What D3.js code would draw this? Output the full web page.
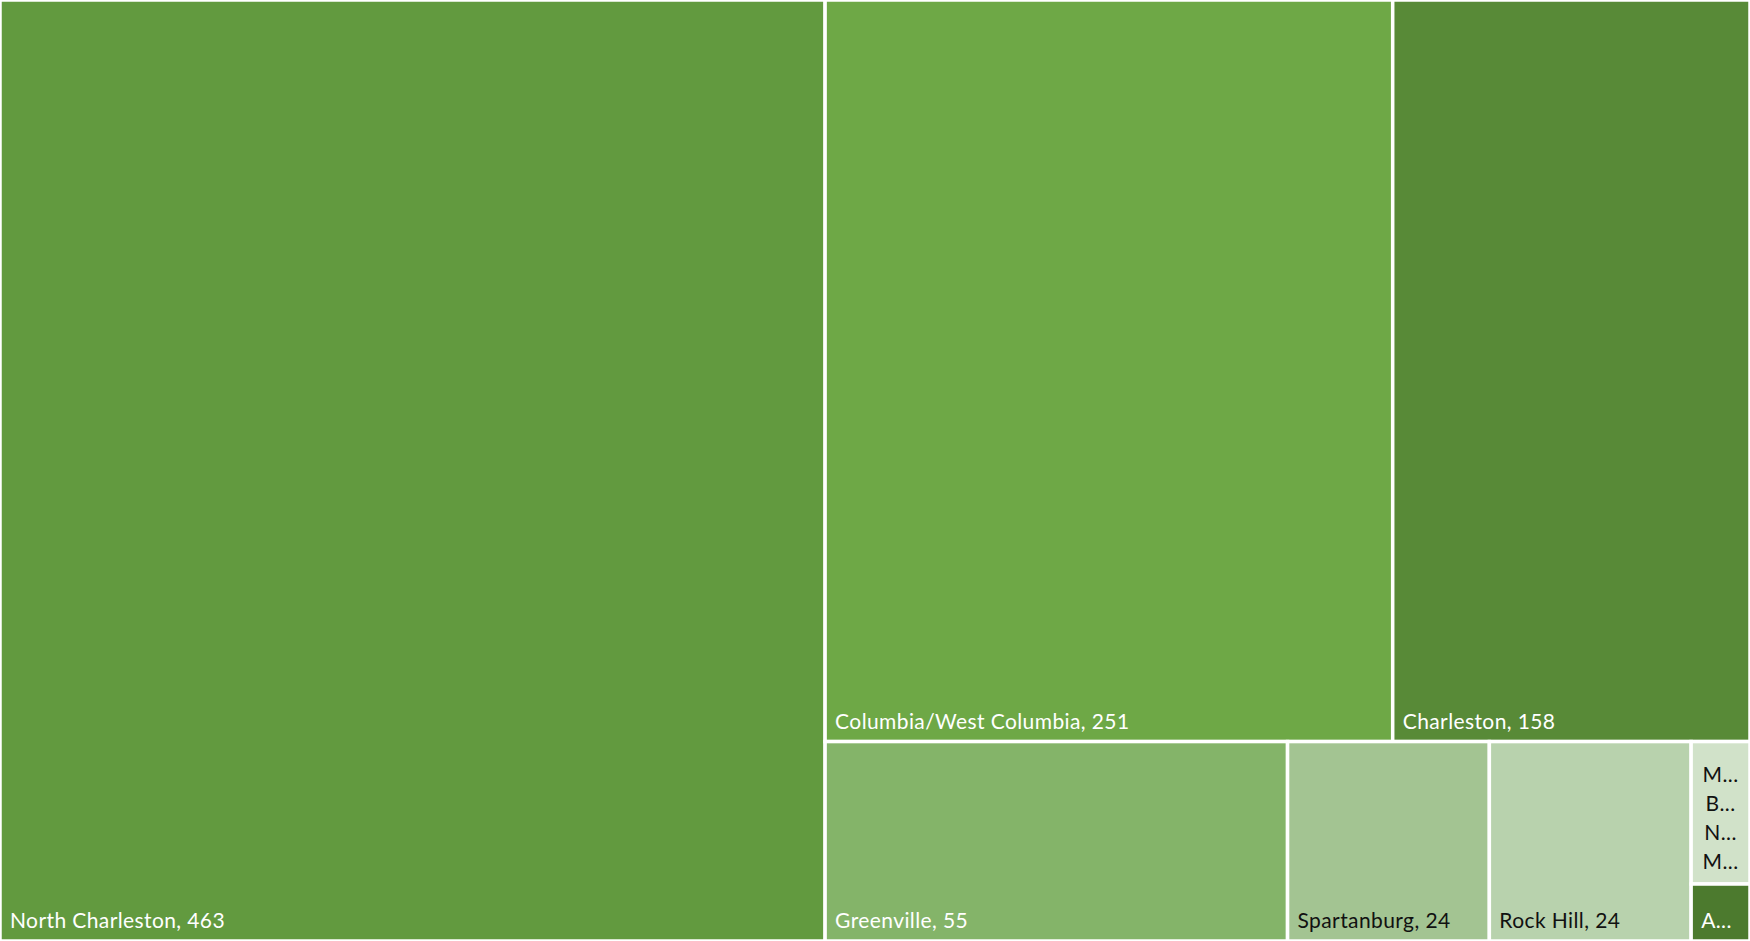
<!DOCTYPE html>
<html>
<head>
<meta charset="utf-8">
<script src="https://cdn.jsdelivr.net/npm/d3@7"></script>
<style>
  html, body { margin: 0; padding: 0; background: #fff; }
  svg { display: block; }
  text { font-family: Lato, "Open Sans", sans-serif; letter-spacing: 0.4px; }
</style>
</head>
<body>
<div id="chart"></div>
<script>
// data
let cities = ["North Charleston", "Columbia/West Columbia", "Charleston", "Greenville",
              "Spartanburg", "Rock Hill", "Myrtle Beach/North Myrtle Beach", "Aiken"];
let counts = [463, 251, 158, 55, 24, 24, 5, 2];
let fills  = ["#629a3f", "#6ea846", "#588a37", "#84b469", "#a3c492", "#b8d2ad", "#d1e2c9", "#4c7a2e"];
let inks   = ["#fff", "#fff", "#fff", "#fff", "#111", "#111", "#111", "#fff"];

let width = 1750, height = 941;
let pad = 10, lineH = 29, fontSize = 21;

let svg = d3.select("#chart").append("svg")
    .attr("width", width)
    .attr("height", height);

let root = d3.hierarchy({children: cities.map((c, i) => ({name: c, value: counts[i], i: i}))})
    .sum(d => d.value || 0)
    .sort((a, b) => b.value - a.value);

d3.treemap()
    .tile(d3.treemapSquarify)
    .size([width, height])(root);

let cell = svg.selectAll("g.cell")
    .data(root.leaves())
    .enter().append("g")
    .attr("class", "cell")
    .attr("transform", d => "translate(" + d.x0 + "," + d.y0 + ")");

cell.append("rect")
    .attr("width", d => d.x1 - d.x0)
    .attr("height", d => d.y1 - d.y0)
    .attr("fill", d => fills[d.data.i])
    .attr("stroke", "#fff")
    .attr("stroke-width", 3.5);

//measure helper
let probe = svg.append("text").attr("font-size", fontSize).attr("visibility", "hidden");
function textW(s) { probe.text(s); return probe.node().getComputedTextLength(); }

function shorten(word, room) {
    if (textW(word) <= room) return word;
    let s = word;
    while (s.length > 1 && textW(s + "...") > room - 6) s = s.slice(0, -1);
    return s + "...";
}

cell.each(function(d) {
    let w = d.x1 - d.x0, h = d.y1 - d.y0;
    let label = d.data.name + ", " + d.data.value;
    let room = w - 2 * pad;
    let g = d3.select(this);
    let t = g.append("text")
        .attr("font-size", fontSize)
        .attr("fill", inks[d.data.i]);

    if (textW(label) <= room) {
        t.attr("x", pad).attr("y", h - 13).text(label);
        return;
    }
    // wrap word by word, cutting every word that is too long
    let words = label.replace(/\//g, "/ ").split(" ").filter(s => s.length);
    let lines = words.map(s => shorten(s, room));
    let maxLines = Math.max(1, Math.floor((h - 2 * pad) / lineH));
    lines = lines.slice(0, maxLines);
    if (lines.length == 1) {
        t.attr("x", pad).attr("y", h - 13).text(lines[0]);
        return;
    }
    let top = h / 2 - (lines.length - 1) * lineH / 2 + 13;
    t.attr("text-anchor", "middle");
    lines.forEach((s, k) => {
        t.append("tspan")
            .attr("x", w / 2)
            .attr("y", top + k * lineH)
            .text(s);
    });
});

probe.remove();
</script>
</body>
</html>
